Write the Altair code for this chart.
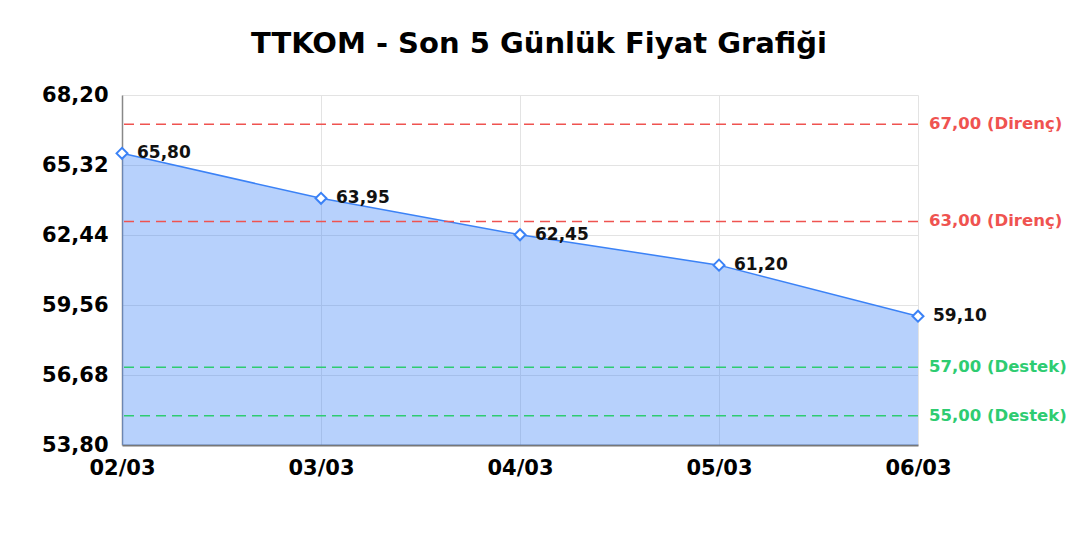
import pandas as pd
import altair as alt

dates = ["02/03", "03/03", "04/03", "05/03", "06/03"]
prices = [65.80, 63.95, 62.45, 61.20, 59.10]

levels = [67.00, 63.00, 57.00, 55.00]
level_kinds = ["Direnç", "Direnç", "Destek", "Destek"]
level_colors = ["#ef5350", "#ef5350", "#2ecc71", "#2ecc71"]

y_ticks = [53.80, 56.68, 59.56, 62.44, 65.32, 68.20]


def tr(v):
    return f"{v:.2f}".replace(".", ",")


df = pd.DataFrame({"date": dates, "price": prices})
df["label"] = df["price"].map(tr)

lv = pd.DataFrame({"level": levels, "kind": level_kinds, "color": level_colors})
lv["label"] = [f"{tr(v)} ({k})" for v, k in zip(levels, level_kinds)]

FONT = "DejaVu Sans"
x_enc = alt.X("date:O", sort=dates, title=None,
              scale=alt.Scale(type="point", padding=0),
              axis=alt.Axis(labelAngle=0, labelFontSize=21, labelFontWeight="bold",
                            labelColor="#000", labelPadding=12, ticks=False,
                            domainColor="#777", domainWidth=2,
                            grid=True, gridColor="#e3e3e3"))
y_scale = alt.Scale(domain=[53.8, 68.2], zero=False, nice=False)
y_enc = alt.Y("price:Q", scale=y_scale, title=None,
              axis=alt.Axis(values=y_ticks, labelFontSize=21, labelFontWeight="bold",
                            labelColor="#000", labelPadding=14, ticks=False,
                            domainColor="#888", domainWidth=1.5,
                            gridColor="#e3e3e3",
                            labelExpr="replace(format(datum.value, '.2f'), '.', ',')"))

base = alt.Chart(df)

area = base.mark_area(color="#3b82f6", opacity=0.37).encode(
    x=x_enc, y=y_enc, y2=alt.datum(53.8)
)
line = base.mark_line(color="#3b82f6", strokeWidth=1.5).encode(x=x_enc, y=y_enc)

rules = alt.Chart(lv).mark_rule(strokeDash=[10, 6], strokeWidth=1.5).encode(
    y=alt.Y("level:Q", scale=y_scale),
    color=alt.Color("color:N", scale=None),
)
rule_text = alt.Chart(lv).mark_text(
    align="left", baseline="middle", dx=11, font=FONT, fontSize=16.5, fontWeight="bold"
).encode(
    x=alt.value(796),
    y=alt.Y("level:Q", scale=y_scale),
    text="label:N",
    color=alt.Color("color:N", scale=None),
)

points = base.mark_point(shape="diamond", filled=True, fill="white", stroke="#3b82f6",
                         strokeWidth=2, size=120, opacity=1).encode(x=x_enc, y=y_enc)
point_text = base.mark_text(
    align="left", baseline="middle", dx=15, font=FONT, fontSize=17, fontWeight="bold",
    color="#111"
).encode(x=x_enc, y=y_enc, text="label:N")

chart = (
    alt.layer(area, line, rules, rule_text, points, point_text)
    .properties(
        width=796, height=350,
        autosize=alt.AutoSizeParams(type="none"),
        padding={"left": 114, "top": 87, "right": 154, "bottom": 80},
        title=alt.TitleParams("TTKOM - Son 5 Günlük Fiyat Grafiği", font=FONT,
                              fontSize=29, fontWeight="bold", color="#000",
                              anchor="middle", dx=19, offset=25),
    )
    .configure_view(stroke=None)
    .configure_axis(labelFont=FONT)
)

chart.save("out.html", embed_options={"renderer": "svg", "actions": False})
